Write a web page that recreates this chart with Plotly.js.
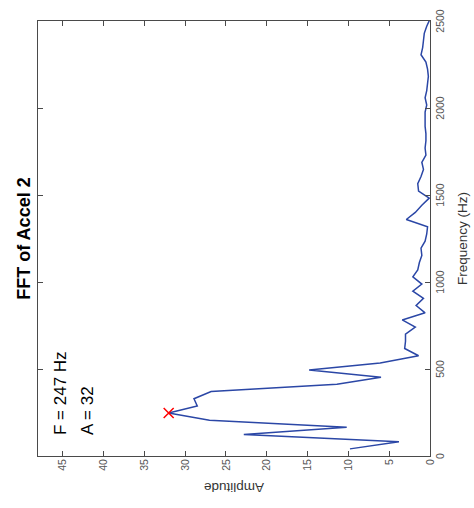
<!DOCTYPE html>
<html>
<head>
<meta charset="utf-8">
<script src="https://cdn.plot.ly/plotly-3.0.1.min.js"></script>
<style>
html, body { margin:0; padding:0; background:#fff; overflow:hidden; width:474px; height:508px; }
#wrap { position:absolute; left:0; top:0; width:508px; height:474px; transform-origin:0 0; transform:translate(0px,508px) rotate(-90deg); }
</style>
</head>
<body>
<div id="wrap"><div id="chart" style="width:508px;height:474px;"></div></div>
<script>
// Frequency bins (Hz)
const freq = [41, 82, 124, 165, 206, 247, 288, 329, 371, 412, 453, 494, 535, 576, 618, 659, 700, 741, 782, 823,
  865, 906, 947, 988, 1029, 1070, 1112, 1153, 1194, 1235, 1276, 1317, 1359, 1400, 1441, 1482, 1523, 1565, 1606, 1647,
  1688, 1729, 1770, 1812, 1853, 1894, 1935, 1976, 2017, 2059, 2100, 2141, 2182, 2223, 2264, 2306, 2347, 2388, 2429, 2470, 2511];
// Amplitude values
const amp = [9.8, 3.8, 22.8, 10.2, 27.0, 32.0, 28.5, 28.9, 26.8, 11.4, 6.0, 14.8, 6.1, 1.4, 3.1, 3.0, 3.0, 1.8, 3.4, 0.6,
  1.7, 0.8, 2.1, 1.0, 2.1, 1.5, 1.3, 1.0, 1.1, 0.6, 0.4, 0.3, 2.9, 1.8, 1.0, 0.1, 1.4, 1.5, 1.1, 0.8,
  1.0, 0.5, 0.6, 0.5, 0.5, 0.6, 0.6, 0.6, 0.4, 0.6, 0.4, 0.3, 0.2, 0.3, 0.5, 1.1, 0.9, 0.8, 0.7, 0.4, 0.0];
// Peak
const peakFreq = [247];
const peakAmp = [32];
const peakLabels = ['F = 247 Hz', 'A = 32'];
const freqTicks = [0, 500, 1000, 1500, 2000, 2500];
const ampTicks = [0, 5, 10, 15, 20, 25, 30, 35, 40, 45];

const axisColor = '#4a4a4a';
const tickFont = {family:'Liberation Sans, Arial, sans-serif', size:10.5, color:'#555'};

const traces = [
  {x:freq, y:amp, type:'scatter', mode:'lines', line:{color:'#2b47a6', width:1.5}, hoverinfo:'skip'},
  {x:peakFreq, y:peakAmp, type:'scatter', mode:'markers',
   marker:{symbol:'x-thin-open', size:10, color:'#ff0000', line:{color:'#ff0000', width:1.5}}, hoverinfo:'skip'}
];

const layout = {
  width:508, height:474,
  margin:{l:52, r:21, t:38, b:44},
  paper_bgcolor:'#fff', plot_bgcolor:'#fff',
  showlegend:false,
  title:{text:'<b>FFT of Accel 2</b>', font:{family:'Liberation Sans, Arial, sans-serif', size:18, color:'#000'},
         x:0.5, xref:'paper', xanchor:'center', y:1-24/474, yref:'container', yanchor:'middle'},
  xaxis:{range:[0,2500], tickvals:freqTicks, ticktext:freqTicks.map(String),
         ticks:'inside', ticklen:5, tickwidth:1, tickcolor:axisColor,
         showline:true, linecolor:axisColor, linewidth:1, mirror:'ticks',
         showgrid:false, zeroline:false, tickfont:tickFont,
         title:{text:'Frequency (Hz)', font:{family:'Liberation Sans, Arial, sans-serif', size:13.5, color:'#333'}, standoff:12}},
  yaxis:{range:[0,48], tickvals:ampTicks, ticktext:ampTicks.map(String),
         ticks:'inside', ticklen:5, tickwidth:1, tickcolor:axisColor,
         showline:true, linecolor:axisColor, linewidth:1, mirror:'ticks',
         showgrid:false, zeroline:false, tickfont:tickFont,
         title:{text:'Amplitude', font:{family:'Liberation Sans, Arial, sans-serif', size:13.5, color:'#333'}, standoff:8}},
  annotations:[
    {text:peakLabels[0], x:109, y:45.2, xref:'x', yref:'y', xanchor:'left', yanchor:'middle', showarrow:false,
     font:{family:'Liberation Sans, Arial, sans-serif', size:17, color:'#000'}},
    {text:peakLabels[1], x:109, y:41.9, xref:'x', yref:'y', xanchor:'left', yanchor:'middle', showarrow:false,
     font:{family:'Liberation Sans, Arial, sans-serif', size:17, color:'#000'}}
  ]
};

Plotly.newPlot('chart', traces, layout, {displayModeBar:false, staticPlot:true});
</script>
</body>
</html>
